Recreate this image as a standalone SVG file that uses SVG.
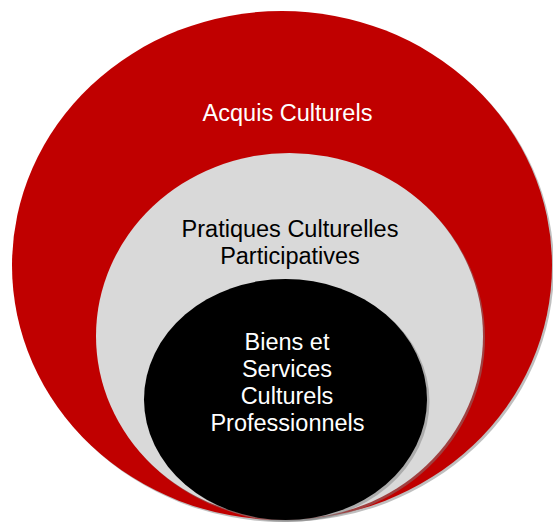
<svg xmlns="http://www.w3.org/2000/svg" width="553" height="523" viewBox="0 0 553 523">
  <style>
    .lbl { font-family: "Liberation Sans", Arial, sans-serif; font-size: 23.5px; text-anchor: middle; }
    .w { fill: #ffffff; }
    .k { fill: #000000; }
    .sh { fill: #7f7f7f; opacity: 0.5; }
  </style>
  <rect width="553" height="523" fill="#ffffff"/>
  <g id="acquis-culturels">
    <ellipse class="sh" cx="284" cy="267.5" rx="270" ry="254.5"/>
    <ellipse cx="282" cy="265.5" rx="270" ry="254.5" fill="#C00000"/>
    <text class="lbl w" x="287.5" y="120.5">Acquis Culturels</text>
  </g>
  <g id="pratiques-culturelles">
    <ellipse class="sh" cx="291.5" cy="338" rx="193.5" ry="183"/>
    <ellipse cx="289.5" cy="336" rx="193.5" ry="183" fill="#D9D9D9"/>
    <text class="lbl k" x="290" y="237">Pratiques Culturelles</text>
    <text class="lbl k" x="290" y="264">Participatives</text>
  </g>
  <g id="biens-services">
    <ellipse class="sh" cx="288" cy="401.5" rx="141.5" ry="120.5"/>
    <ellipse cx="285.5" cy="399.5" rx="141.5" ry="120.5" fill="#000000"/>
    <text class="lbl w" x="287" y="350">Biens et</text>
    <text class="lbl w" x="287" y="377">Services</text>
    <text class="lbl w" x="287" y="404">Culturels</text>
    <text class="lbl w" x="287.5" y="430.5">Professionnels</text>
  </g>
  <g id="connectors"/>
</svg>
